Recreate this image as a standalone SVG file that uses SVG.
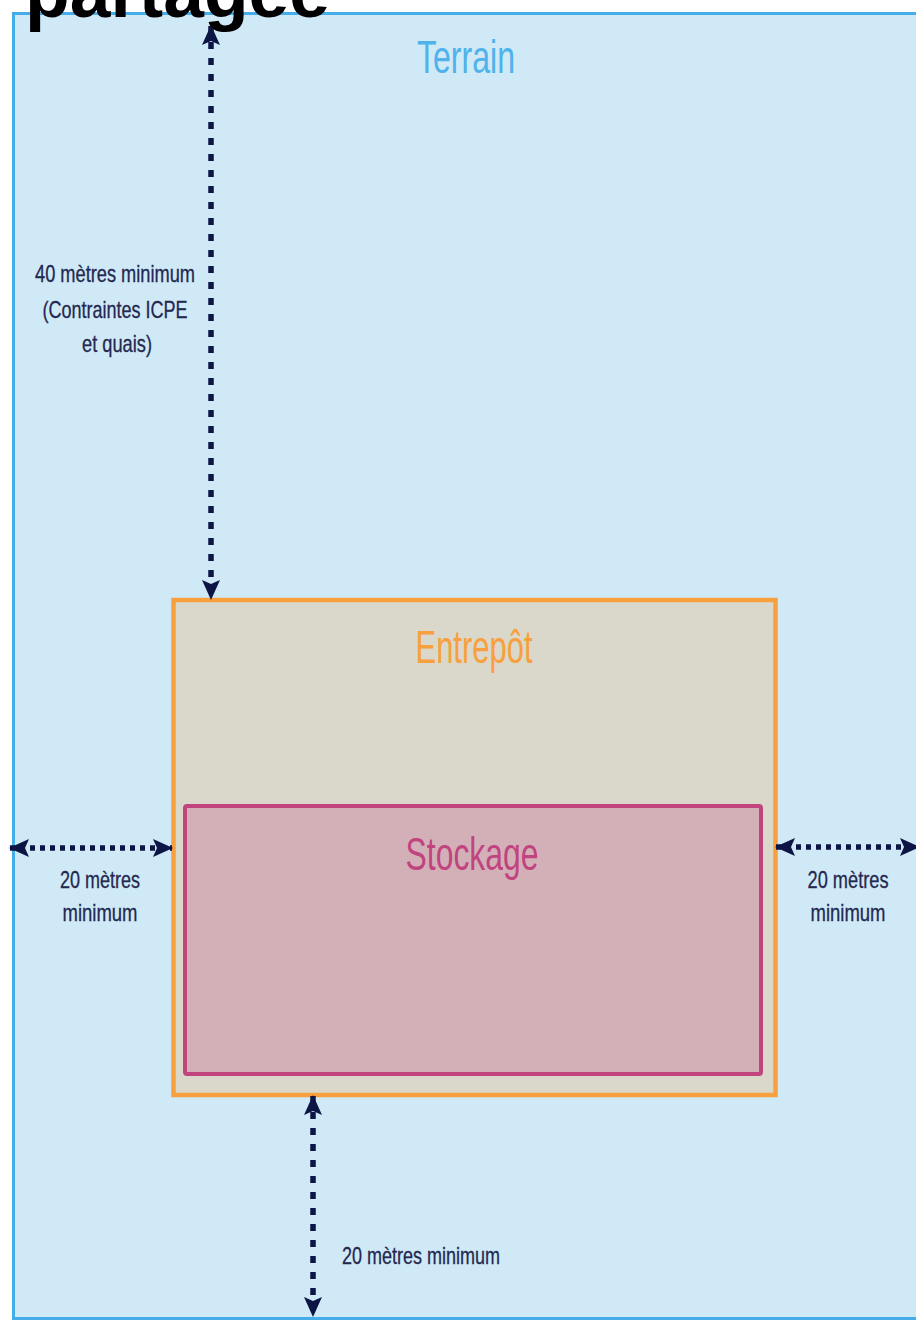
<svg xmlns="http://www.w3.org/2000/svg" width="916" height="1320" viewBox="0 0 916 1320">
<style>
.lbl{font-family:"Liberation Sans",Arial,sans-serif;font-size:24px;fill:#23284f;stroke:#23284f;stroke-width:0.3;text-anchor:middle}
.big{font-family:"Liberation Sans",Arial,sans-serif;font-size:46px;text-anchor:middle}
.dim{fill:none;stroke:#0d1545;stroke-width:5.5}
.v{stroke-dasharray:7 9}
.h{stroke-dasharray:5 5}
</style>
<defs>
<marker id="ah" viewBox="0 0 20 20" refX="19" refY="10" markerWidth="20" markerHeight="20" markerUnits="userSpaceOnUse" orient="auto-start-reverse">
<path d="M0,1 L20,10 L0,19 L4,10 Z" fill="#0d1545"/>
</marker>
</defs>
<rect width="916" height="1320" fill="#ffffff"/>
<g id="terrain">
<rect x="13.5" y="13.5" width="930" height="1305" fill="#d0e9f7" stroke="#45aee8" stroke-width="3"/>
<text class="big" x="466" y="73" fill="#4fb2ea" textLength="98" lengthAdjust="spacingAndGlyphs">Terrain</text>
</g>
<g id="entrepot">
<rect x="173.5" y="600" width="602" height="495" fill="#dad8cb" stroke="#f7a03d" stroke-width="4.5"/>
<text class="big" x="474" y="663" fill="#f7a03d" textLength="117" lengthAdjust="spacingAndGlyphs">Entrepôt</text>
</g>
<g id="stockage">
<rect x="185" y="806" width="576" height="268" rx="2" fill="#d3b0b8" stroke="#c1447f" stroke-width="4"/>
<text class="big" x="472" y="870" fill="#c1447f" textLength="133" lengthAdjust="spacingAndGlyphs">Stockage</text>
</g>
<g id="connectors">
<line class="dim v" x1="211" y1="26" x2="211" y2="599" marker-start="url(#ah)" marker-end="url(#ah)"/>
<line class="dim h" x1="10" y1="848" x2="172" y2="848" marker-start="url(#ah)" marker-end="url(#ah)"/>
<line class="dim h" x1="776" y1="847" x2="919" y2="847" marker-start="url(#ah)" marker-end="url(#ah)"/>
<line class="dim v" x1="313" y1="1096" x2="313" y2="1316" marker-start="url(#ah)" marker-end="url(#ah)"/>
</g>
<g id="labels">
<text class="lbl" x="115" y="282" textLength="160" lengthAdjust="spacingAndGlyphs">40 mètres minimum</text>
<text class="lbl" x="115" y="318" textLength="145" lengthAdjust="spacingAndGlyphs">(Contraintes ICPE</text>
<text class="lbl" x="117" y="352" textLength="70" lengthAdjust="spacingAndGlyphs">et quais)</text>
<text class="lbl" x="100" y="888" textLength="80" lengthAdjust="spacingAndGlyphs">20 mètres</text>
<text class="lbl" x="100" y="921" textLength="75" lengthAdjust="spacingAndGlyphs">minimum</text>
<text class="lbl" x="848" y="888" textLength="81" lengthAdjust="spacingAndGlyphs">20 mètres</text>
<text class="lbl" x="848" y="921" textLength="75" lengthAdjust="spacingAndGlyphs">minimum</text>
<text class="lbl" x="421" y="1264" textLength="158" lengthAdjust="spacingAndGlyphs">20 mètres minimum</text>
</g>
<text x="25" y="17" font-family="Liberation Sans,Arial,sans-serif" font-size="73" font-weight="bold" fill="#000000" textLength="305" lengthAdjust="spacingAndGlyphs">partagée</text>
</svg>
